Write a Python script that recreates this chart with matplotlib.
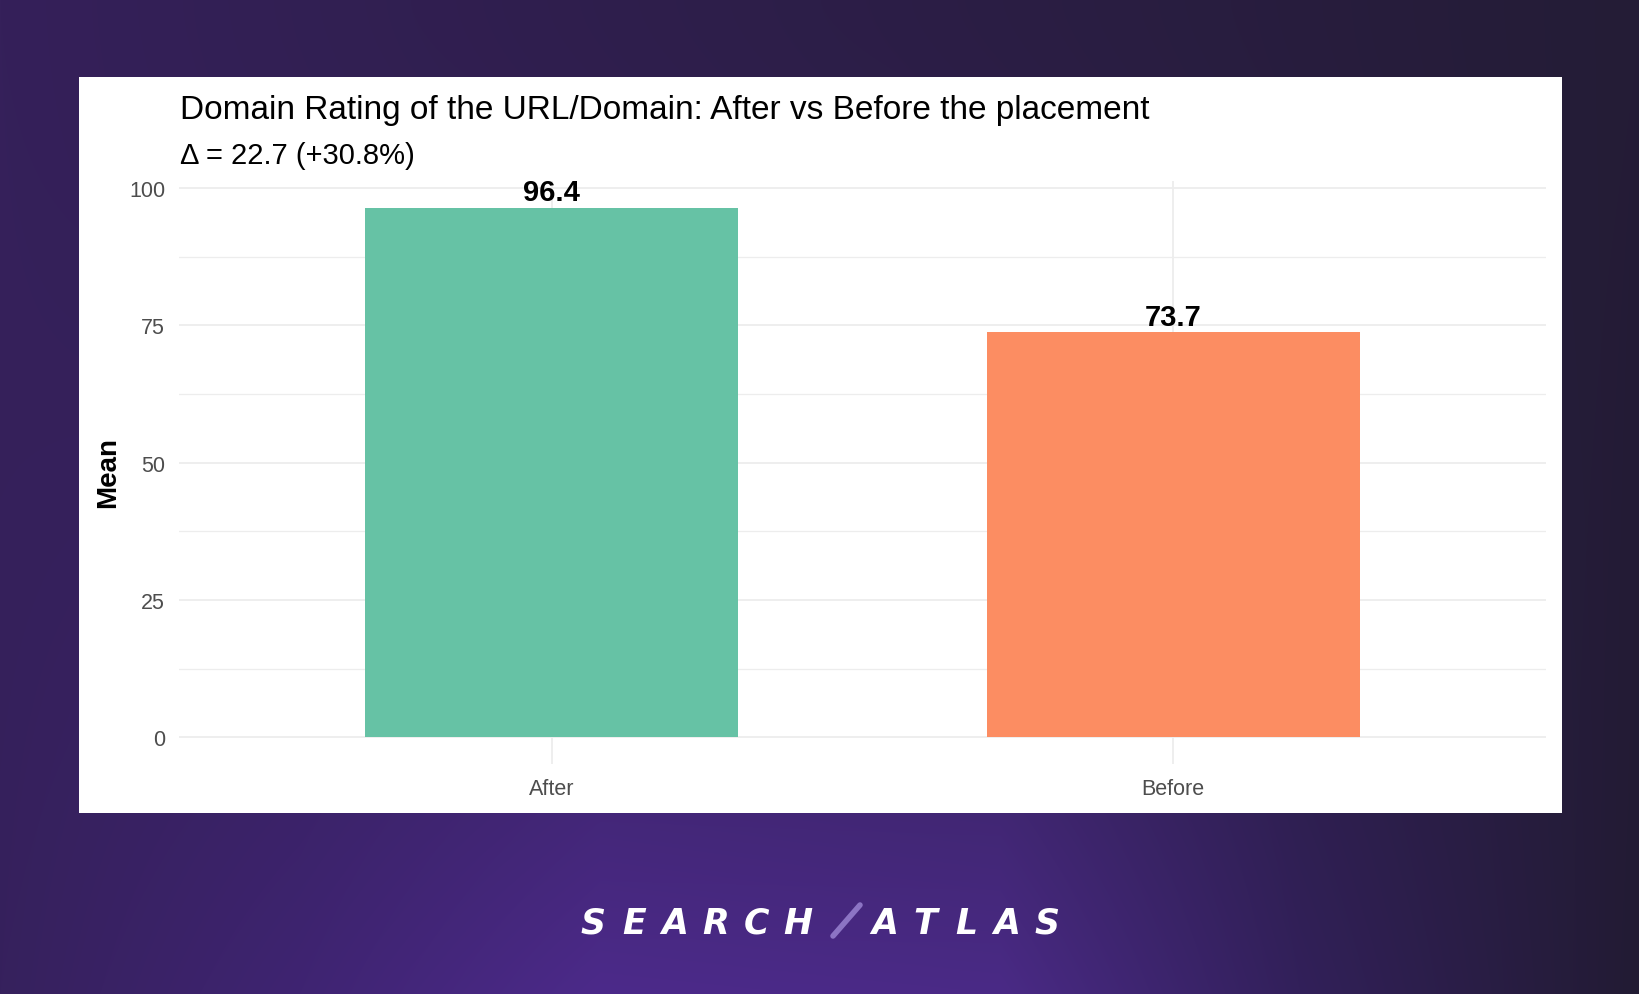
import numpy as np
import matplotlib.pyplot as plt
from matplotlib.patches import Rectangle
from matplotlib.colors import to_rgb

# data
groups = ["After", "Before"]
means = [96.4, 73.7]
bar_colors = ["#66c2a5", "#fc8d62"]
y_ticks = [0, 25, 50, 75, 100]
title = "Domain Rating of the URL/Domain: After vs Before the placement"
subtitle = "\u0394 = 22.7 (+30.8%)"

W, H = 1640, 995
plt.rcParams["font.family"] = ["Liberation Sans", "DejaVu Sans"]

fig = plt.figure(figsize=(W / 100, H / 100), dpi=100)

# purple background, brighter towards the bottom middle
top_x = [0, 1640]
top_cols = ["#35205a", "#241c36"]
bot_x = [0, 300, 600, 1000, 1300, 1640]
bot_cols = ["#36215d", "#3f2472", "#4c2a8a", "#4a2a86", "#32205a", "#221b33"]
xs = np.arange(W)
top_row = np.stack([np.interp(xs, top_x, [to_rgb(c)[k] for c in top_cols]) for k in range(3)], axis=1)
bot_row = np.stack([np.interp(xs, bot_x, [to_rgb(c)[k] for c in bot_cols]) for k in range(3)], axis=1)
t = (np.arange(H) / (H - 1)) ** 1.6
bg = top_row[None, :, :] * (1 - t[:, None, None]) + bot_row[None, :, :] * t[:, None, None]

bg_ax = fig.add_axes([0, 0, 1, 1], zorder=0)
bg_ax.imshow(bg, aspect="auto", extent=[0, 1, 0, 1])
bg_ax.axis("off")

# white card
fig.patches.append(Rectangle((79 / W, 1 - 814 / H), (1562 - 79) / W, (814 - 78) / H,
                             transform=fig.transFigure, facecolor="white",
                             edgecolor="none", zorder=0.5))

ax = fig.add_axes([179 / W, 1 - 764.8 / H, (1546 - 179) / W, (764.8 - 182.3) / H], zorder=2)
ax.set_facecolor("white")

x = np.arange(len(groups))
bars = ax.bar(x, means, width=0.6, color=bar_colors, zorder=3)
for xi, v in zip(x, means):
    ax.annotate(f"{v:.1f}", (xi, v), xytext=(0, 1), textcoords="offset points",
                ha="center", va="bottom", fontsize=21, fontweight="bold", color="black", zorder=4)

pad = 0.05 * max(means)
ax.set_ylim(-pad, max(means) + pad)
ax.set_xlim(-0.6, len(groups) - 0.4)
ax.set_yticks(y_ticks)
ax.set_yticks([12.5, 37.5, 62.5, 87.5], minor=True)
ax.set_xticks(x)
ax.set_xticklabels(groups)
ax.tick_params(axis="both", which="both", length=0, labelsize=15.5, labelcolor="#4d4d4d")
ax.tick_params(axis="y", pad=10)
ax.tick_params(axis="x", pad=10)
ax.set_axisbelow(True)
ax.yaxis.grid(True, which="major", color="#ededed", linewidth=1.3)
ax.yaxis.grid(True, which="minor", color="#ededed", linewidth=0.9)
ax.xaxis.grid(True, which="major", color="#ededed", linewidth=1.3)
for s in ax.spines.values():
    s.set_visible(False)

fig.text(108 / W, 1 - 473 / H, "Mean", rotation=90, ha="center", va="center",
         fontsize=20, fontweight="bold", color="black")
fig.text(180 / W, 1 - 119 / H, title, ha="left", va="baseline", fontsize=24, color="black")
fig.text(180 / W, 1 - 164 / H, subtitle, ha="left", va="baseline", fontsize=21, color="black")

# logo
logo_left = "SEARCH"
logo_right = "ATLAS"
for i, ch in enumerate(logo_left):
    fig.text((593 + 41 * i) / W, 1 - 934 / H, ch, ha="center", va="baseline",
             fontsize=25, fontweight="bold", style="italic", color="white",
             family="DejaVu Sans")
for i, ch in enumerate(logo_right):
    fig.text((885 + 40.5 * i) / W, 1 - 934 / H, ch, ha="center", va="baseline",
             fontsize=25, fontweight="bold", style="italic", color="white",
             family="DejaVu Sans")
fig.add_artist(plt.Line2D([833 / W, 860 / W], [1 - 937 / H, 1 - 906 / H],
                          transform=fig.transFigure, color="#8c74c4", linewidth=4,
                          solid_capstyle="round"))

plt.savefig("out.png", dpi=100)
